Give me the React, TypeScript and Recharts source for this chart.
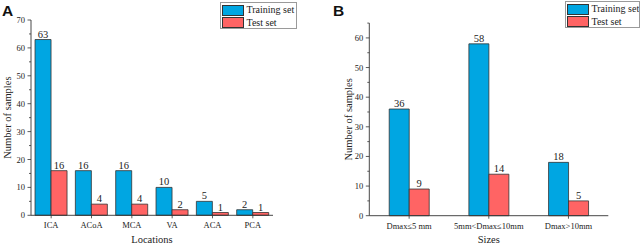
import React from 'react';
import { BarChart, Bar, XAxis, YAxis, Legend, LabelList, Label } from 'recharts';

const locations = ['ICA', 'ACoA', 'MCA', 'VA', 'ACA', 'PCA'];
const locTraining = [63, 16, 16, 10, 5, 2];
const locTest = [16, 4, 4, 2, 1, 1];

const sizes = ['Dmax≤5 mm', '5mm<Dmax≤10mm', 'Dmax>10mm'];
const sizeTraining = [36, 58, 18];
const sizeTest = [9, 14, 5];

const seriesNames = ['Training set', 'Test set'];
const yTicksA = [0, 5, 10, 15, 20, 25, 30, 35, 40, 45, 50, 55, 60, 65, 70];
const yTicksB = [0, 5, 10, 15, 20, 25, 30, 35, 40, 45, 50, 55, 60, 65];

const SERIF = '"Liberation Serif", serif';
const SANS = '"Liberation Sans", Arial, sans-serif';
const BLUE = '#00A6E2';
const RED = '#FF6464';
const EDGE = '#333333';
const INK = '#222222';

const dataA = locations.map((c, i) => ({ cat: c, train: locTraining[i], test: locTest[i] }));
const dataB = sizes.map((c, i) => ({ cat: c, train: sizeTraining[i], test: sizeTest[i] }));

const YTick = (props: any) => {
  const { x, y, payload } = props;
  const major = payload.value % 10 === 0;
  return (
    <g>
      <line x1={x - (major ? 3.5 : 2)} x2={x} y1={y} y2={y} stroke={EDGE} strokeWidth={0.8} />
      {major && (
        <text x={x - 6} y={y} textAnchor="end" dominantBaseline="central" style={{ fontFamily: SERIF, fontSize: 8.5 }} fill={INK}>
          {payload.value}
        </text>
      )}
    </g>
  );
};

const XTick = (props: any) => {
  const { x, y, payload } = props;
  return (
    <text x={x} y={y} textAnchor="middle" dominantBaseline="hanging" style={{ fontFamily: SERIF, fontSize: 8.5 }} fill={INK}>
      {payload.value}
    </text>
  );
};

const yTitle = (text: string, dx: number) => (props: any) => {
  const vb = props.viewBox || {};
  const cx = (vb.x || 0) + dx;
  const cy = (vb.y || 0) + (vb.height || 0) / 2;
  return (
    <text x={cx} y={cy} transform={`rotate(-90, ${cx}, ${cy})`} textAnchor="middle" dominantBaseline="central" style={{ fontFamily: SERIF, fontSize: 10.5 }} fill={INK}>
      {text}
    </text>
  );
};

const xTitle = (text: string, dy: number) => (props: any) => {
  const vb = props.viewBox || {};
  const cx = (vb.x || 0) + (vb.width || 0) / 2;
  const cy = (vb.y || 0) + dy;
  return (
    <text x={cx} y={cy} textAnchor="middle" dominantBaseline="central" style={{ fontFamily: SERIF, fontSize: 10.5 }} fill={INK}>
      {text}
    </text>
  );
};

const makeLegend = (w: number) => (props: any) => {
  const payload = [...(props.payload || [])].sort(
    (a: any, b: any) => seriesNames.indexOf(a.value) - seriesNames.indexOf(b.value)
  );
  return (
    <div style={{ boxSizing: 'border-box', width: w, height: 27, border: '1px solid #9a9a9a', background: '#fff', padding: '1px 0px 1px 1px', fontFamily: SERIF, fontSize: 10, color: INK, lineHeight: '12px', overflow: 'hidden' }}>
      {payload.map((p: any) => (
        <div key={p.value} style={{ display: 'flex', alignItems: 'center', height: 12.5 }}>
          <span style={{ display: 'inline-block', boxSizing: 'border-box', width: 22, height: 11, background: p.color, border: `1px solid ${EDGE}`, marginRight: 2.5, flexShrink: 0 }} />
          <span style={{ whiteSpace: 'nowrap' }}>{p.value}</span>
        </div>
      ))}
    </div>
  );
};

const valueLabelStyle = { fontFamily: SERIF, fontSize: 10.5, fill: INK };

const letterStyle: React.CSSProperties = { position: 'absolute', top: 3, fontFamily: SANS, fontWeight: 'bold', fontSize: 15.5, lineHeight: '15.5px', color: '#111' };

export default function App() {
  return (
    <div style={{ position: 'absolute', left: 0, top: 0, width: 642, height: 247, background: '#fff', overflow: 'hidden' }}>
      <div style={{ position: 'absolute', left: 0, top: 0 }}>
        <BarChart width={320} height={247} data={dataA} margin={{ top: 20, right: 47, left: 0, bottom: 0 }} barGap={0} barCategoryGap="10%">
          <XAxis dataKey="cat" height={31.7} interval={0} axisLine={{ stroke: EDGE, strokeWidth: 0.9 }} tickLine={{ stroke: EDGE, strokeWidth: 0.8 }} tickSize={3} tickMargin={3.5} tick={<XTick />}>
            <Label content={xTitle('Locations', 24)} />
          </XAxis>
          <YAxis width={31} domain={[0, 70]} ticks={yTicksA} interval={0} tickSize={0} tickMargin={0} tickLine={false} axisLine={{ stroke: EDGE, strokeWidth: 0.9 }} tick={<YTick />}>
            <Label content={yTitle('Number of samples', 8)} />
          </YAxis>
          <Legend layout="vertical" align="center" verticalAlign="middle" content={makeLegend(77)} wrapperStyle={{ position: 'absolute', left: 220, top: 2, width: 77, height: 27 }} />
          <Bar dataKey="train" name={seriesNames[0]} fill={BLUE} stroke={EDGE} strokeWidth={0.8} isAnimationActive={false}>
            <LabelList dataKey="train" position="top" offset={2} style={valueLabelStyle} />
          </Bar>
          <Bar dataKey="test" name={seriesNames[1]} fill={RED} stroke={EDGE} strokeWidth={0.8} isAnimationActive={false}>
            <LabelList dataKey="test" position="top" offset={2} style={valueLabelStyle} />
          </Bar>
        </BarChart>
      </div>

      <div style={{ position: 'absolute', left: 320, top: 0 }}>
        <BarChart width={320} height={247} data={dataB} margin={{ top: 23.1, right: 31.7, left: 0, bottom: 0 }} barGap={0} barCategoryGap="25%">
          <XAxis dataKey="cat" height={31.3} interval={0} axisLine={{ stroke: EDGE, strokeWidth: 0.9 }} tickLine={{ stroke: EDGE, strokeWidth: 0.8 }} tickSize={3} tickMargin={3.5} tick={<XTick />}>
            <Label content={xTitle('Sizes', 24)} />
          </XAxis>
          <YAxis width={49.3} domain={[0, 65]} ticks={yTicksB} interval={0} tickSize={0} tickMargin={0} tickLine={false} axisLine={{ stroke: EDGE, strokeWidth: 0.9 }} tick={<YTick />}>
            <Label content={yTitle('Number of samples', 28.3)} />
          </YAxis>
          <Legend layout="vertical" align="center" verticalAlign="middle" content={makeLegend(75)} wrapperStyle={{ position: 'absolute', left: 245, top: 1, width: 75, height: 27 }} />
          <Bar dataKey="train" name={seriesNames[0]} fill={BLUE} stroke={EDGE} strokeWidth={0.8} isAnimationActive={false}>
            <LabelList dataKey="train" position="top" offset={2} style={valueLabelStyle} />
          </Bar>
          <Bar dataKey="test" name={seriesNames[1]} fill={RED} stroke={EDGE} strokeWidth={0.8} isAnimationActive={false}>
            <LabelList dataKey="test" position="top" offset={2} style={valueLabelStyle} />
          </Bar>
        </BarChart>
      </div>

      <div style={{ ...letterStyle, left: 2 }}>A</div>
      <div style={{ ...letterStyle, left: 333 }}>B</div>
    </div>
  );
}
